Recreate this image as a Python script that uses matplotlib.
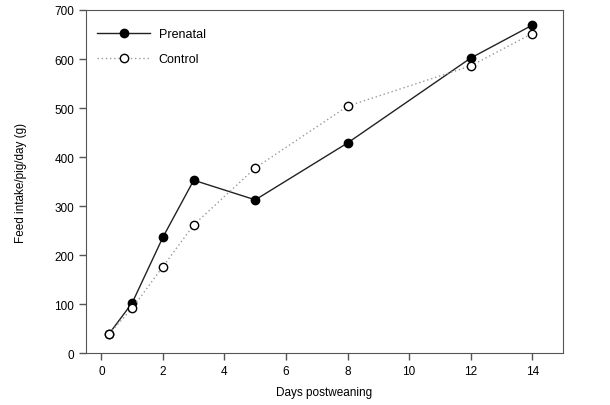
import matplotlib
matplotlib.use("Agg")
import matplotlib.pyplot as plt

days = [0.25, 1, 2, 3, 5, 8, 12, 14]
prenatal = [40, 103, 237, 353, 313, 429, 602, 669]
control = [40, 92, 177, 262, 378, 504, 586, 652]

plt.rcParams['font.family'] = ['Liberation Sans', 'DejaVu Sans']

fig = plt.figure(figsize=(6.1, 4.06), dpi=100)
ax = fig.add_axes([0.141, 0.127, 0.782, 0.846])

ax.plot(days, prenatal, color="#222222", lw=1.0, marker="o", ms=6,
        mfc="black", mec="black", label="Prenatal", zorder=3)
ax.plot(days, control, color="#999999", lw=1.0, ls=(0, (1, 2)), marker="o", ms=6,
        mfc="white", mec="black", mew=1.0, label="Control", zorder=4)

ax.set_xlim(-0.5, 15)
ax.set_ylim(0, 700)
ax.set_xticks(range(0, 15, 2))
ax.set_yticks(range(0, 701, 100))
ax.tick_params(direction="out", length=5, width=1, color="#555555", labelsize=8.5)
for s in ax.spines.values():
    s.set_color("#555555")

ax.set_xlabel("Days postweaning", fontsize=8.5, labelpad=6)
ax.set_ylabel("Feed intake/pig/day (g)", fontsize=8.5, labelpad=20)

leg = ax.legend(loc="upper left", frameon=False, fontsize=9, handlelength=4.2,
                handletextpad=0.7, labelspacing=1.05,
                bbox_to_anchor=(0.0, 0.98))

fig.savefig("out.png", dpi=100)
